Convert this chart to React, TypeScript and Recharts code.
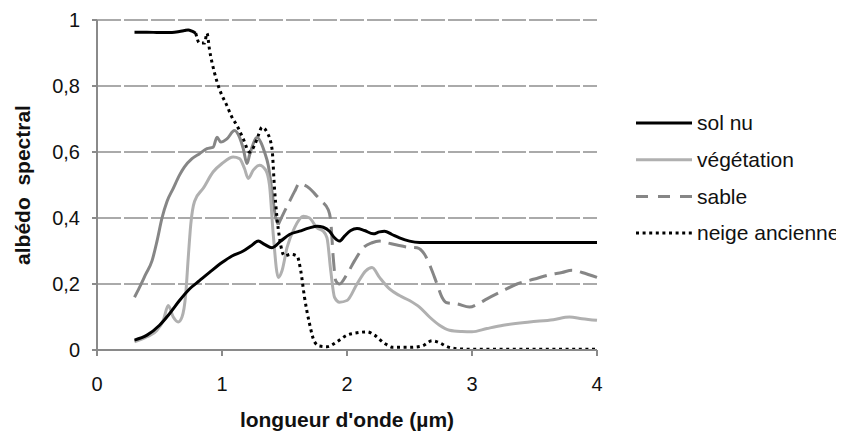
import type { ReactElement } from "react";
import { LineChart, Line, XAxis, YAxis, CartesianGrid, Legend } from "recharts";

// [longueur d'onde (µm), albédo]
const solNu: [number, number][] = [
  [0.3, 0.03], [0.4, 0.045], [0.5, 0.075], [0.58, 0.11], [0.66, 0.15], [0.74, 0.185],
  [0.82, 0.21], [0.9, 0.235], [1.0, 0.265], [1.08, 0.285], [1.17, 0.3], [1.23, 0.315],
  [1.29, 0.33], [1.34, 0.32], [1.4, 0.31], [1.47, 0.33], [1.54, 0.35], [1.62, 0.36],
  [1.7, 0.37], [1.76, 0.375], [1.81, 0.372], [1.86, 0.36], [1.9, 0.34], [1.94, 0.33],
  [1.98, 0.345], [2.03, 0.362], [2.08, 0.368], [2.14, 0.362], [2.21, 0.352], [2.26, 0.358],
  [2.3, 0.36], [2.36, 0.35], [2.42, 0.34], [2.5, 0.33], [2.58, 0.326], [2.7, 0.326],
  [3.0, 0.326], [3.5, 0.326], [4.0, 0.326],
];

const vegetation: [number, number][] = [
  [0.3, 0.025], [0.4, 0.04], [0.48, 0.06], [0.53, 0.09], [0.57, 0.135], [0.61, 0.1],
  [0.65, 0.085], [0.68, 0.1], [0.71, 0.17], [0.73, 0.28], [0.75, 0.38], [0.78, 0.45],
  [0.85, 0.49], [0.93, 0.54], [1.0, 0.565], [1.09, 0.585], [1.14, 0.58], [1.18, 0.55],
  [1.21, 0.52], [1.25, 0.545], [1.3, 0.56], [1.35, 0.545], [1.38, 0.5], [1.41, 0.35],
  [1.45, 0.22], [1.48, 0.24], [1.52, 0.31], [1.58, 0.37], [1.65, 0.405], [1.7, 0.4],
  [1.76, 0.37], [1.81, 0.36], [1.84, 0.34], [1.87, 0.24], [1.9, 0.16], [1.94, 0.145],
  [2.0, 0.15], [2.08, 0.2], [2.15, 0.24], [2.2, 0.25], [2.26, 0.22], [2.34, 0.185],
  [2.42, 0.165], [2.5, 0.15], [2.58, 0.13], [2.66, 0.1], [2.74, 0.075], [2.82, 0.06],
  [2.92, 0.056], [3.0, 0.055], [3.12, 0.065], [3.25, 0.075], [3.46, 0.085], [3.65, 0.092],
  [3.78, 0.1], [3.88, 0.095], [4.0, 0.09],
];

// sable : trait plein au début, tirets ensuite
const sableDebut: [number, number][] = [
  [0.3, 0.16], [0.34, 0.19], [0.39, 0.23], [0.44, 0.27], [0.48, 0.33], [0.52, 0.4],
  [0.56, 0.45], [0.61, 0.49], [0.66, 0.53], [0.7, 0.555], [0.76, 0.58], [0.82, 0.595],
  [0.88, 0.61], [0.93, 0.615], [0.96, 0.645], [0.99, 0.63], [1.04, 0.64], [1.1, 0.665],
  [1.14, 0.645], [1.17, 0.61], [1.2, 0.565], [1.22, 0.59], [1.25, 0.625], [1.28, 0.645],
  [1.31, 0.63], [1.34, 0.6], [1.37, 0.56], [1.4, 0.48], [1.43, 0.4], [1.45, 0.38],
];

const sableSuite: [number, number][] = [
  [1.45, 0.38], [1.5, 0.42], [1.54, 0.45], [1.58, 0.48], [1.62, 0.505], [1.66, 0.5],
  [1.7, 0.49], [1.75, 0.47], [1.8, 0.45], [1.85, 0.425], [1.87, 0.39], [1.89, 0.28],
  [1.91, 0.21], [1.94, 0.2], [2.0, 0.23], [2.06, 0.27], [2.13, 0.31], [2.2, 0.325],
  [2.26, 0.33], [2.32, 0.325], [2.4, 0.318], [2.48, 0.312], [2.56, 0.31], [2.62, 0.29],
  [2.67, 0.25], [2.72, 0.2], [2.76, 0.16], [2.8, 0.143], [2.88, 0.14], [2.98, 0.13],
  [3.05, 0.14], [3.12, 0.155], [3.25, 0.18], [3.36, 0.2], [3.5, 0.215], [3.62, 0.228],
  [3.72, 0.235], [3.8, 0.242], [3.88, 0.235], [4.0, 0.22],
];

// neige ancienne : plein sur le plateau, pointillé ensuite
const neigeDebut: [number, number][] = [
  [0.3, 0.963], [0.4, 0.963], [0.5, 0.962], [0.6, 0.962], [0.66, 0.965], [0.7, 0.968],
  [0.73, 0.97], [0.76, 0.966], [0.79, 0.96],
];

const neigeSuite: [number, number][] = [
  [0.79, 0.96], [0.82, 0.93], [0.86, 0.93], [0.88, 0.96], [0.9, 0.91], [0.94, 0.84],
  [0.98, 0.79], [1.04, 0.74], [1.08, 0.705], [1.12, 0.68], [1.17, 0.64], [1.22, 0.6],
  [1.26, 0.62], [1.29, 0.65], [1.32, 0.675], [1.36, 0.66], [1.4, 0.61], [1.42, 0.49],
  [1.44, 0.4], [1.46, 0.34], [1.5, 0.285], [1.55, 0.29], [1.6, 0.285], [1.63, 0.24],
  [1.66, 0.16], [1.7, 0.08], [1.74, 0.025], [1.78, 0.012], [1.84, 0.01], [1.92, 0.025],
  [2.0, 0.045], [2.08, 0.052], [2.16, 0.055], [2.22, 0.045], [2.3, 0.02], [2.37, 0.008],
  [2.5, 0.008], [2.6, 0.012], [2.68, 0.028], [2.74, 0.022], [2.8, 0.01], [2.88, 0.004],
  [3.0, 0.002], [3.5, 0.002], [4.0, 0.002],
];

const xTicks = [0, 1, 2, 3, 4];
const yTicks = [0, 0.2, 0.4, 0.6, 0.8, 1];

const FONT = "'Liberation Sans', Arial, sans-serif";
const AXIS = "#8a8a8a";

const toPoints = (arr: [number, number][]) => arr.map(([x, y]) => ({ x, y }));

const legendItems = [
  { name: "sol nu", color: "#000000", dash: undefined as string | undefined },
  { name: "végétation", color: "#b0b0b0", dash: undefined },
  { name: "sable", color: "#868686", dash: "12 10" },
  { name: "neige ancienne", color: "#000000", dash: "3 3.6" },
];

function renderLegend(): ReactElement {
  return (
    <svg width={220} height={150}>
      {legendItems.map((it, i) => {
        const y = 15 + i * 36.7;
        return (
          <g key={it.name}>
            <line x1={0} x2={56} y1={y} y2={y} stroke={it.color} strokeWidth={3} strokeDasharray={it.dash} />
            <text x={61} y={y} dy="0.35em" fontSize={21} fill="#111" fontFamily={FONT}>
              {it.name}
            </text>
          </g>
        );
      })}
    </svg>
  );
}

export default function App(): ReactElement {
  return (
    <div style={{ fontFamily: FONT }}>
      <LineChart width={836} height={427} margin={{ top: 12, right: 27, left: 0, bottom: 0 }}>
        <CartesianGrid vertical={false} stroke="#8f8f8f" strokeWidth={1.5} strokeDasharray="24 3" />
        <XAxis
          type="number"
          dataKey="x"
          domain={[0, 4]}
          ticks={xTicks}
          height={85}
          stroke={AXIS}
          strokeWidth={2}
          tickSize={6}
          tickMargin={21}
          tick={{ fontSize: 20, fill: "#111", fontFamily: FONT }}
          label={{
            value: "longueur d'onde (µm)",
            position: "insideBottom",
            offset: 8,
            style: { fontSize: 21, fontWeight: "bold", fill: "#111", fontFamily: FONT },
          }}
        />
        <YAxis
          type="number"
          domain={[0, 1]}
          ticks={yTicks}
          width={89}
          stroke={AXIS}
          strokeWidth={2}
          tickSize={5}
          tickMargin={12}
          tickFormatter={(v: number) => String(v).replace(".", ",")}
          tick={{ fontSize: 20, fill: "#111", fontFamily: FONT }}
          label={{
            value: "albédo\u00a0 spectral",
            angle: -90,
            position: "center",
            dx: -30,
            style: { fontSize: 21, fontWeight: "bold", fill: "#111", fontFamily: FONT },
          }}
        />
        <Legend
          layout="vertical"
          align="right"
          verticalAlign="top"
          width={220}
          wrapperStyle={{ left: 628, top: 100, right: "auto" }}
          content={renderLegend}
        />
        <Line data={toPoints(sableDebut)} dataKey="y" name="sable-debut" legendType="none" type="monotone"
          stroke="#868686" strokeWidth={3} dot={false} activeDot={false} isAnimationActive={false} />
        <Line data={toPoints(sableSuite)} dataKey="y" name="sable" type="monotone"
          stroke="#868686" strokeWidth={3} strokeDasharray="18 8" dot={false} activeDot={false} isAnimationActive={false} />
        <Line data={toPoints(vegetation)} dataKey="y" name="végétation" type="monotone"
          stroke="#b0b0b0" strokeWidth={3} dot={false} activeDot={false} isAnimationActive={false} />
        <Line data={toPoints(solNu)} dataKey="y" name="sol nu" type="monotone"
          stroke="#000000" strokeWidth={3} dot={false} activeDot={false} isAnimationActive={false} />
        <Line data={toPoints(neigeDebut)} dataKey="y" name="neige-debut" legendType="none" type="monotone"
          stroke="#000000" strokeWidth={3} dot={false} activeDot={false} isAnimationActive={false} />
        <Line data={toPoints(neigeSuite)} dataKey="y" name="neige ancienne" type="monotone"
          stroke="#000000" strokeWidth={3} strokeDasharray="3 3.6" dot={false} activeDot={false} isAnimationActive={false} />
      </LineChart>
    </div>
  );
}
